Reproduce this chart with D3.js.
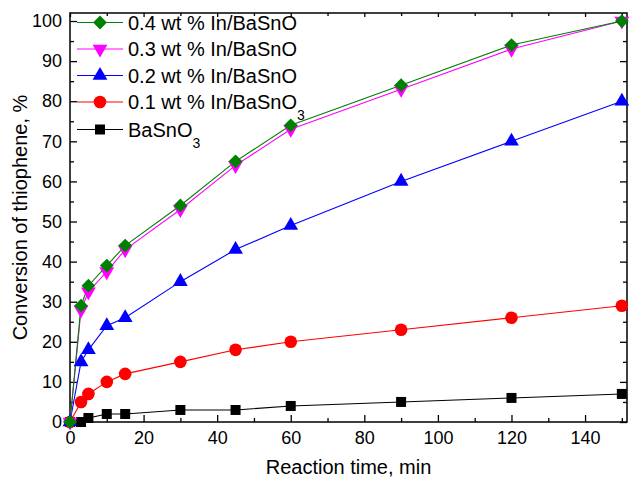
<!DOCTYPE html>
<html>
<head>
<meta charset="utf-8">
<script src="https://cdn.jsdelivr.net/npm/d3@7/dist/d3.min.js"></script>
<style>
  html, body { margin: 0; padding: 0; background: #fff; }
  svg { display: block; font-family: Arial, "Liberation Sans", sans-serif; }
</style>
</head>
<body>
<svg id="chart" width="629" height="478"></svg>
<script>
// reaction times, min
const times = [0, 3, 5, 10, 15, 30, 45, 60, 90, 120, 150];

// conversion of thiophene, %
const bare = [0, 0, 1, 2, 2, 3, 3, 4, 5, 6, 7];
const in01 = [0, 5, 7, 10, 12, 15, 18, 20, 23, 26, 29];
const in02 = [0, 15, 18, 24, 26, 35, 43, 49, 60, 70, 80];
const in03 = [0, 28, 32.5, 37.5, 43, 53, 64, 73, 83, 93, 100];
const in04 = [0, 29, 34, 39, 44, 54, 65, 74, 84, 94, 100];

const xTicks = [0, 20, 40, 60, 80, 100, 120, 140];
const yTicks = [0, 10, 20, 30, 40, 50, 60, 70, 80, 90, 100];

// drawing order: bottom series first, green ends on top
const series = [
  { name: "BaSnO", sub: "3", values: bare, color: "#000000", symbol: d3.symbolSquare, size: 100, rot: 0 },
  { name: "0.1 wt % In/BaSnO", sub: "3", values: in01, color: "#ff0000", symbol: d3.symbolCircle, size: 125, rot: 0 },
  { name: "0.2 wt % In/BaSnO", sub: "", values: in02, color: "#0000ff", symbol: d3.symbolTriangle, size: 95, rot: 0 },
  { name: "0.3 wt % In/BaSnO", sub: "", values: in03, color: "#ff00ff", symbol: d3.symbolTriangle, size: 95, rot: 180 },
  { name: "0.4 wt % In/BaSnO", sub: "", values: in04, color: "#008000", symbol: d3.symbolSquare, size: 95, rot: 45 }
];

const svg = d3.select("#chart");
const plotLeft = 70, plotRight = 627, plotTop = 13, plotBottom = 422;

const x = d3.scaleLinear().domain([0, 151.4]).range([plotLeft, plotRight]);
const y = d3.scaleLinear().domain([0, 102]).range([plotBottom, plotTop]);

const minorX = d3.range(10, 151, 20);
const minorY = d3.range(5, 101, 10);

// axes, ticks pointing inward
function axisGroup(axis, tx, ty) {
  const g = svg.append("g").attr("transform", `translate(${tx},${ty})`).call(axis);
  g.select(".domain").remove();
  g.selectAll("line").attr("stroke", "#000").attr("stroke-width", 1.3);
  g.selectAll("text")
    .attr("font-size", 18)
    .attr("font-family", "Arial, 'Liberation Sans', sans-serif")
    .attr("fill", "#000");
  return g;
}

axisGroup(d3.axisBottom(x).tickValues(xTicks).tickSizeInner(-7).tickSizeOuter(0).tickPadding(9), 0, plotBottom);
axisGroup(d3.axisBottom(x).tickValues(minorX).tickSizeInner(-4).tickSizeOuter(0).tickFormat(""), 0, plotBottom);
axisGroup(d3.axisTop(x).tickValues(xTicks).tickSizeInner(-4).tickSizeOuter(0).tickFormat(""), 0, plotTop);
axisGroup(d3.axisTop(x).tickValues(minorX).tickSizeInner(-3).tickSizeOuter(0).tickFormat(""), 0, plotTop);
axisGroup(d3.axisLeft(y).tickValues(yTicks).tickSizeInner(-7).tickSizeOuter(0).tickPadding(8), plotLeft, 0);
axisGroup(d3.axisLeft(y).tickValues(minorY).tickSizeInner(-4).tickSizeOuter(0).tickFormat(""), plotLeft, 0);
axisGroup(d3.axisRight(y).tickValues(yTicks).tickSizeInner(-7).tickSizeOuter(0).tickFormat(""), plotRight, 0);
axisGroup(d3.axisRight(y).tickValues(minorY).tickSizeInner(-4).tickSizeOuter(0).tickFormat(""), plotRight, 0);

// frame
svg.append("rect")
  .attr("x", plotLeft).attr("y", plotTop)
  .attr("width", plotRight - plotLeft).attr("height", plotBottom - plotTop)
  .attr("fill", "none").attr("stroke", "#000").attr("stroke-width", 1.5);

const line = d3.line().x((d, i) => x(times[i])).y(d => y(d));

series.forEach(s => {
  svg.append("path")
    .datum(s.values)
    .attr("d", line)
    .attr("fill", "none")
    .attr("stroke", s.color)
    .attr("stroke-width", 1.1);
});

series.forEach(s => {
  const sym = d3.symbol().type(s.symbol).size(s.size);
  svg.append("g").selectAll("path")
    .data(s.values)
    .join("path")
    .attr("d", sym)
    .attr("transform", (d, i) => `translate(${x(times[i])},${y(d)}) rotate(${s.rot})`)
    .attr("fill", s.color);
});

// legend
const legendRows = [22.5, 49, 75.5, 102, 129.5];
const legendOrder = series.slice().reverse();
legendOrder.forEach((s, k) => {
  const ly = legendRows[k];
  const g = svg.append("g");
  g.append("line")
    .attr("x1", 77).attr("x2", 123).attr("y1", ly).attr("y2", ly)
    .attr("stroke", s.color).attr("stroke-width", 1.1);
  g.append("path")
    .attr("d", d3.symbol().type(s.symbol).size(s.size))
    .attr("transform", `translate(100,${ly}) rotate(${s.rot})`)
    .attr("fill", s.color);
  const t = g.append("text")
    .attr("x", 128).attr("y", ly + 7)
    .attr("font-size", 20).attr("fill", "#000")
    .text(s.name);
  if (s.sub) {
    t.append("tspan").attr("dy", 11).attr("font-size", 14).text(s.sub);
  }
});

// axis titles
svg.append("text")
  .attr("x", (plotLeft + plotRight) / 2).attr("y", 474)
  .attr("text-anchor", "middle").attr("font-size", 20).attr("fill", "#000")
  .text("Reaction time, min");

svg.append("text")
  .attr("transform", `translate(27,${(plotTop + plotBottom) / 2}) rotate(-90)`)
  .attr("text-anchor", "middle").attr("font-size", 20).attr("fill", "#000")
  .text("Conversion of thiophene, %");
</script>
</body>
</html>
